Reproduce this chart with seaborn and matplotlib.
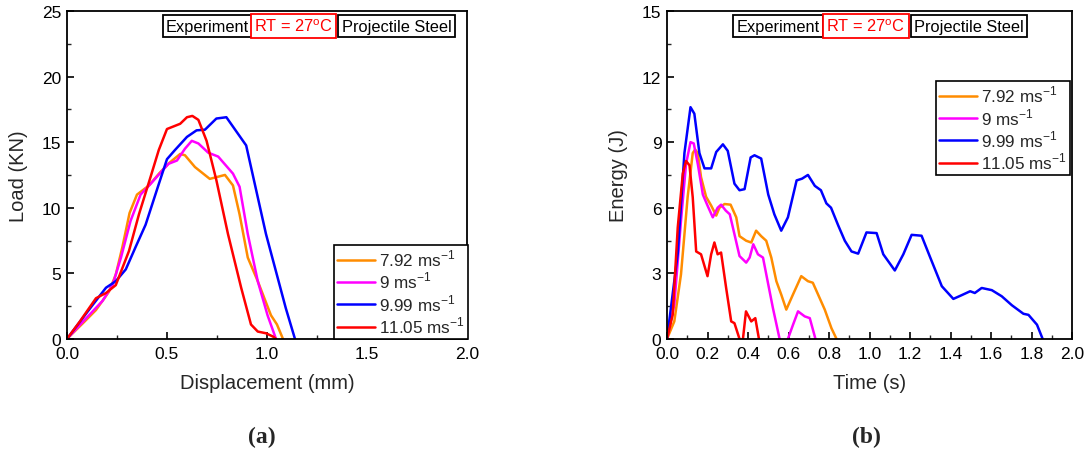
import matplotlib
matplotlib.use("Agg")
import matplotlib.pyplot as plt
import numpy as np
import pandas as pd
import seaborn as sns
from matplotlib.ticker import MultipleLocator

# Load-displacement data (a)
disp_792 = [0, 0.08, 0.145, 0.21, 0.244, 0.277, 0.313, 0.35, 0.41, 0.46, 0.51, 0.566, 0.59, 0.64, 0.714, 0.79, 0.83, 0.863, 0.904, 0.954, 1.02, 1.05, 1.08]
load_792 = [0, 1.2, 2.2, 3.6, 4.9, 7.0, 9.6, 11.0, 11.7, 12.6, 13.4, 14.1, 14.0, 13.1, 12.2, 12.5, 11.7, 9.5, 6.2, 4.4, 1.8, 1.1, 0]
disp_9 = [0, 0.079, 0.178, 0.228, 0.27, 0.318, 0.368, 0.417, 0.475, 0.508, 0.55, 0.59, 0.624, 0.657, 0.706, 0.756, 0.83, 0.863, 0.904, 0.954, 1.003, 1.045]
load_9 = [0, 1.3, 2.9, 4.1, 6.2, 9.0, 11.0, 11.8, 12.8, 13.35, 13.6, 14.5, 15.1, 14.9, 14.2, 13.9, 12.6, 11.6, 8.0, 4.4, 1.8, 0]
disp_999 = [0, 0.129, 0.195, 0.244, 0.294, 0.343, 0.393, 0.459, 0.5, 0.54, 0.6, 0.648, 0.69, 0.747, 0.797, 0.896, 0.995, 1.094, 1.14]
load_999 = [0, 2.6, 3.9, 4.4, 5.3, 7.0, 8.7, 11.8, 13.7, 14.4, 15.4, 15.9, 15.95, 16.8, 16.9, 14.75, 8.0, 2.35, 0]
disp_1105 = [0, 0.063, 0.145, 0.195, 0.244, 0.31, 0.36, 0.417, 0.459, 0.5, 0.533, 0.566, 0.6, 0.627, 0.657, 0.698, 0.747, 0.805, 0.871, 0.92, 0.954, 0.995, 1.03, 1.045]
load_1105 = [0, 1.3, 3.1, 3.5, 4.1, 6.7, 9.5, 12.3, 14.4, 16.0, 16.2, 16.4, 16.9, 17.0, 16.7, 15.1, 12.1, 8.0, 3.9, 1.1, 0.56, 0.43, 0.18, 0]

# Energy-time data (b)
time_792 = [0, 0.036, 0.069, 0.102, 0.127, 0.139, 0.152, 0.168, 0.193, 0.218, 0.243, 0.259, 0.284, 0.314, 0.342, 0.358, 0.391, 0.416, 0.44, 0.465, 0.49, 0.515, 0.54, 0.564, 0.589, 0.622, 0.663, 0.696, 0.72, 0.746, 0.779, 0.812, 0.837]
energy_792 = [0, 0.8, 2.95, 6.5, 8.5, 8.66, 8.5, 7.4, 6.5, 6.1, 5.64, 6.0, 6.17, 6.14, 5.56, 4.7, 4.49, 4.41, 4.95, 4.7, 4.49, 3.72, 2.64, 2.03, 1.34, 2.03, 2.87, 2.64, 2.57, 2.03, 1.34, 0.49, 0]
time_9 = [0, 0.036, 0.069, 0.094, 0.116, 0.132, 0.152, 0.177, 0.2, 0.226, 0.25, 0.267, 0.29, 0.31, 0.333, 0.358, 0.391, 0.408, 0.426, 0.449, 0.474, 0.5, 0.523, 0.556, 0.576, 0.597, 0.622, 0.647, 0.68, 0.705, 0.733]
energy_9 = [0, 1.57, 5.4, 8.0, 9.0, 8.94, 8.0, 6.6, 6.1, 5.56, 6.0, 6.14, 5.87, 5.7, 4.79, 3.79, 3.49, 3.72, 4.33, 3.87, 3.72, 2.49, 1.41, 0, -0.5, 0, 0.64, 1.26, 1.03, 0.95, 0]
time_999 = [0, 0.053, 0.086, 0.116, 0.135, 0.16, 0.185, 0.218, 0.243, 0.276, 0.3, 0.333, 0.358, 0.383, 0.413, 0.432, 0.465, 0.5, 0.53, 0.564, 0.597, 0.64, 0.667, 0.696, 0.73, 0.76, 0.787, 0.81, 0.845, 0.878, 0.911, 0.944, 0.985, 1.035, 1.068, 1.125, 1.167, 1.208, 1.257, 1.3, 1.357, 1.414, 1.455, 1.497, 1.52, 1.554, 1.604, 1.653, 1.703, 1.76, 1.785, 1.827, 1.855]
energy_999 = [0, 3.9, 8.5, 10.6, 10.3, 8.5, 7.8, 7.8, 8.55, 8.9, 8.6, 7.1, 6.8, 6.85, 8.3, 8.4, 8.25, 6.6, 5.7, 4.95, 5.56, 7.25, 7.33, 7.5, 7.0, 6.8, 6.2, 6.0, 5.2, 4.49, 4.0, 3.9, 4.87, 4.84, 3.87, 3.13, 3.87, 4.76, 4.72, 3.72, 2.41, 1.83, 2.0, 2.18, 2.1, 2.33, 2.23, 1.95, 1.54, 1.15, 1.1, 0.65, 0]
time_1105 = [0, 0.028, 0.053, 0.078, 0.094, 0.111, 0.127, 0.144, 0.168, 0.2, 0.218, 0.234, 0.25, 0.267, 0.292, 0.317, 0.333, 0.358, 0.366, 0.375, 0.39, 0.416, 0.436, 0.454]
energy_1105 = [0, 1.1, 5.1, 7.56, 8.14, 7.94, 6.48, 4.0, 3.87, 2.87, 3.87, 4.41, 3.87, 3.95, 2.33, 0.8, 0.72, 0, -0.5, 0, 1.26, 0.8, 0.95, 0]

speed_labels = ["7.92 ms$^{-1}$", "9 ms$^{-1}$", "9.99 ms$^{-1}$", "11.05 ms$^{-1}$"]
colors = ["#FF8C00", "#FF00FF", "#0000FF", "#FF0000"]
tags = ["Experiment", "RT = 27$^{\\mathrm{o}}$C", "Projectile Steel"]


def make_frame(xs, ys, xname, yname):
    parts = []
    for x, y, lab in zip(xs, ys, speed_labels):
        parts.append(pd.DataFrame({xname: x, yname: y, "Speed": lab}))
    return pd.concat(parts, ignore_index=True)


sns.set_style("ticks")
plt.rcParams["font.family"] = ["Liberation Sans", "DejaVu Sans"]
plt.rcParams["mathtext.fontset"] = "custom"
plt.rcParams["mathtext.rm"] = "Liberation Sans"

fig = plt.figure(figsize=(10.89, 4.52), dpi=100)
ax1 = fig.add_axes([0.0615, 0.248, 0.3673, 0.7255])
ax2 = fig.add_axes([0.6125, 0.248, 0.3719, 0.7255])

df_a = make_frame([disp_792, disp_9, disp_999, disp_1105], [load_792, load_9, load_999, load_1105],
                  "Displacement", "Load")
df_b = make_frame([time_792, time_9, time_999, time_1105], [energy_792, energy_9, energy_999, energy_1105],
                  "Time", "Energy")

sns.lineplot(data=df_a, x="Displacement", y="Load", hue="Speed", palette=colors,
             sort=False, estimator=None, linewidth=1.8, ax=ax1)
sns.lineplot(data=df_b, x="Time", y="Energy", hue="Speed", palette=colors,
             sort=False, estimator=None, linewidth=1.8, ax=ax2)

# Axes formatting
for ax, xl, yl, ymax, ymaj, xmaj in [(ax1, "Displacement (mm)", "Load (KN)", 25, 5, 0.5),
                                      (ax2, "Time (s)", "Energy (J)", 15, 3, 0.2)]:
    ax.set_xlim(0, 2.0)
    ax.set_ylim(0, ymax)
    ax.xaxis.set_major_locator(MultipleLocator(xmaj))
    ax.xaxis.set_minor_locator(MultipleLocator(xmaj / 2))
    ax.yaxis.set_major_locator(MultipleLocator(ymaj))
    ax.yaxis.set_minor_locator(MultipleLocator(ymaj / 2))
    ax.xaxis.set_major_formatter(plt.FormatStrFormatter("%.1f"))
    ax.yaxis.set_major_formatter(plt.FormatStrFormatter("%d"))
    ax.tick_params(which="major", direction="in", length=5, width=1.2, labelsize=12.5, colors="black")
    ax.tick_params(which="minor", direction="in", length=3, width=1.0)
    ax.tick_params(axis="x", which="major", pad=5)
    ax.tick_params(axis="y", which="major", pad=4)
    for side in ["top", "right", "bottom", "left"]:
        ax.spines[side].set_visible(True)
        ax.spines[side].set_linewidth(1.3)
        ax.spines[side].set_color("black")
    ax.set_xlabel(xl, fontsize=14.5, labelpad=9)
    ax.set_ylabel(yl, fontsize=14.5, labelpad=10)

# Legends
for ax, loc, anchor in [(ax1, "lower right", (1.003, 0.0)), (ax2, "upper right", (0.995, 0.787))]:
    sns.move_legend(ax, loc, bbox_to_anchor=anchor, title=None, frameon=True,
                    fancybox=False, fontsize=12.3, handlelength=2.2, handletextpad=0.25,
                    labelspacing=0.1, borderpad=0.2, borderaxespad=0)
    frame = ax.get_legend().get_frame()
    frame.set_edgecolor("black")
    frame.set_linewidth(1.2)
    frame.set_alpha(1)

# Condition tags at the top of each panel
for ax, xs in [(ax1, [0.351, 0.566, 0.824]), (ax2, [0.274, 0.491, 0.746])]:
    for x, t in zip(xs, tags):
        c = "red" if t.startswith("RT") else "black"
        ax.text(x, 0.954, t, transform=ax.transAxes, ha="center", va="center", fontsize=11.8,
                color=c, bbox=dict(boxstyle="square,pad=0.2", fc="white", ec=c, lw=1.3))

fig.text(0.2406, 0.033, "(a)", ha="center", va="center", fontsize=17,
         fontweight="bold", family="Liberation Serif")
fig.text(0.7955, 0.033, "(b)", ha="center", va="center", fontsize=17,
         fontweight="bold", family="Liberation Serif")

fig.savefig("out.png", dpi=100, facecolor="white")
